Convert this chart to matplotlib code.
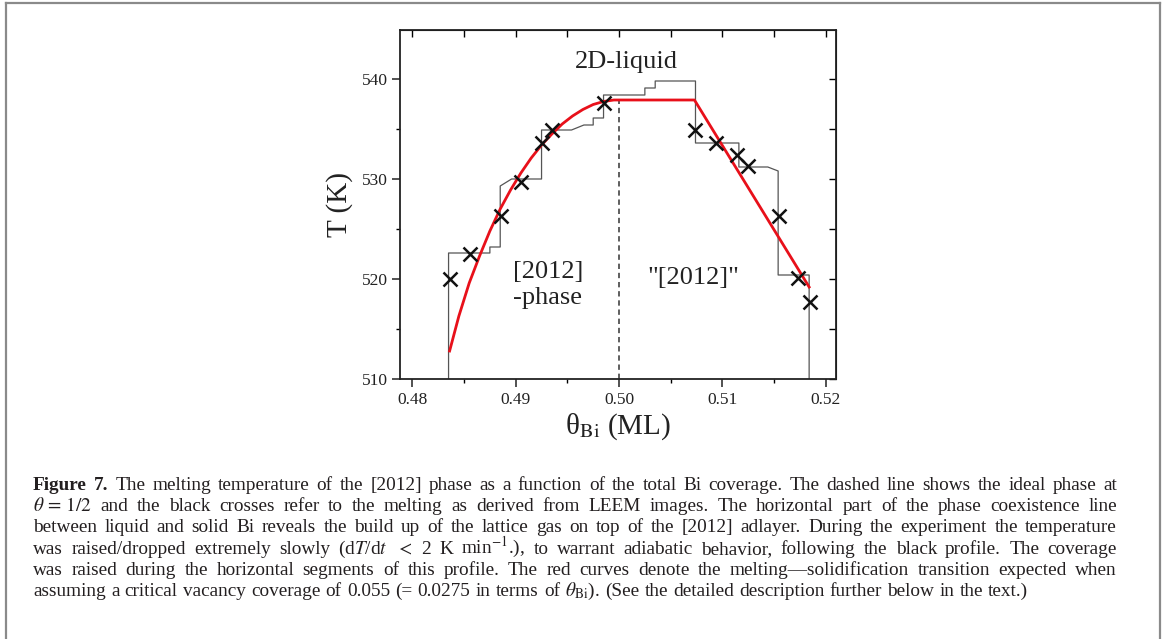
import re
import matplotlib
matplotlib.use("Agg")
import matplotlib.pyplot as plt
from matplotlib.lines import Line2D
from matplotlib.ticker import MultipleLocator

plt.rcParams["font.family"] = ["Liberation Serif", "DejaVu Serif"]
plt.rcParams["mathtext.fontset"] = "stix"

# LEEM melting points (black crosses)
cross_theta = [0.4836, 0.4856, 0.4886, 0.4905, 0.4925, 0.4935, 0.4985,
               0.5074, 0.5094, 0.5114, 0.5125, 0.5155, 0.5173, 0.5185]
cross_T = [520.0, 522.5, 526.3, 529.7, 533.6, 534.9, 537.6,
           534.9, 533.6, 532.4, 531.3, 526.3, 520.1, 517.7]

# temperature / coverage profile followed in the experiment
profile_theta = [0.4835, 0.4835, 0.4875, 0.4875, 0.4885, 0.4885, 0.4896, 0.4925,
                 0.4925, 0.4954, 0.4966, 0.4975, 0.4975, 0.4985, 0.4985, 0.5025,
                 0.5025, 0.5035, 0.5035, 0.5074, 0.5074, 0.5116, 0.5116, 0.5144,
                 0.5154, 0.5154, 0.5184, 0.5184]
profile_T = [510.0, 522.6, 522.6, 523.2, 523.2, 529.3, 530.0, 530.0,
             534.9, 534.9, 535.4, 535.4, 536.1, 536.1, 538.4, 538.4,
             539.1, 539.1, 539.8, 539.8, 533.6, 533.6, 531.2, 531.2,
             530.8, 520.4, 520.4, 510.0]

# expected melting / solidification line (red)
melt_theta = [0.4836, 0.4845, 0.4855, 0.4865, 0.4875, 0.4885, 0.4895, 0.4905,
              0.4915, 0.4925, 0.4935, 0.4945, 0.4955, 0.4965, 0.4975, 0.4985,
              0.4995, 0.5073, 0.5184]
melt_T = [512.8, 516.3, 519.6, 522.3, 524.8, 527.0, 528.9, 530.6,
          532.1, 533.4, 534.5, 535.5, 536.3, 536.95, 537.45, 537.75,
          537.9, 537.9, 519.2]

ideal_theta = 0.5
ideal_top = 537.9

caption = [
    "Figure 7. The melting temperature of the [2012] phase as a function of the total Bi coverage. The dashed line shows the ideal phase at",
    r"$\theta\,=\,1/2$ and the black crosses refer to the melting as derived from LEEM images. The horizontal part of the phase coexistence line",
    "between liquid and solid Bi reveals the build up of the lattice gas on top of the [2012] adlayer. During the experiment the temperature",
    r"was raised/dropped extremely slowly (d$T$/d$t$ $<$ 2 K min$^{-1}$.), to warrant adiabatic behavior, following the black profile. The coverage",
    "was raised during the horizontal segments of this profile. The red curves denote the melting\u2014solidification transition expected when",
    r"assuming a critical vacancy coverage of 0.055 (= 0.0275 in terms of $\theta_{\rm Bi}$). (See the detailed description further below in the text.)",
]

W, H = 1165, 639
fig = plt.figure(figsize=(W / 100, H / 100), dpi=100)
ax = fig.add_axes([400 / W, 1 - 379 / H, 436 / W, 349 / H])

ax.plot(profile_theta, profile_T, color="#555555", lw=0.9, zorder=2)
ax.plot([ideal_theta, ideal_theta], [510, ideal_top], color="#333333",
        lw=1.1, ls=(0, (3.5, 2.5)), zorder=2)
ax.plot(melt_theta, melt_T, color="#e8101a", lw=2.0, zorder=3)
ax.plot(cross_theta, cross_T, ls="none", marker="x", ms=9.5, mew=1.8,
        color="#111111", zorder=4)

ax.set_xlim(0.4788, 0.5210)
ax.set_ylim(510, 544.9)
ax.xaxis.set_major_locator(MultipleLocator(0.01))
ax.xaxis.set_minor_locator(MultipleLocator(0.005))
ax.yaxis.set_major_locator(MultipleLocator(10))
ax.yaxis.set_minor_locator(MultipleLocator(5))
ax.xaxis.set_major_formatter(lambda v, p: f"{v:.2f}")
ax.yaxis.set_major_formatter(lambda v, p: f"{v:.0f}")
ax.tick_params(which="major", direction="out", length=6, width=1.1,
               labelsize=12.5, colors="#222222")
ax.tick_params(which="minor", direction="out", length=3, width=1.0)
ax.tick_params(axis="x", pad=3)
ax.tick_params(axis="y", pad=3)
for s in ax.spines.values():
    s.set_linewidth(1.3)
    s.set_color("#222222")

top = ax.secondary_xaxis("top")
top.xaxis.set_major_locator(MultipleLocator(0.01))
top.xaxis.set_minor_locator(MultipleLocator(0.005))
top.tick_params(which="both", direction="in", length=5, width=1.0,
                labeltop=False, labelbottom=False)
right = ax.secondary_yaxis("right")
right.yaxis.set_major_locator(MultipleLocator(5))
right.tick_params(which="both", direction="in", length=5, width=1.0,
                  labelright=False, labelleft=False)

ax.set_xlabel("\u03b8$_{\\rm Bi}$ (ML)", fontsize=21, labelpad=3, color="#222222")
ax.set_ylabel("T (K)", fontsize=21, labelpad=6, color="#222222")

ax.text(0.50068, 541.7, "2D-liquid", fontsize=19, ha="center", va="center",
        color="#222222")
ax.text(0.48976, 519.4, "[2012]\n-phase", fontsize=19, ha="left", va="center",
        linespacing=1.2, color="#222222")
ax.text(0.50718, 520.1, '"[2012]"', fontsize=19, ha="center", va="center",
        color="#222222")

# frame around figure + caption
frame = dict(color="#8a8a8a", lw=1.6, transform=fig.transFigure)
fig.add_artist(Line2D([6 / W, 1160 / W], [1 - 3 / H, 1 - 3 / H], **frame))
fig.add_artist(Line2D([6 / W, 6 / W], [0, 1 - 3 / H], **frame))
fig.add_artist(Line2D([1160 / W, 1160 / W], [0, 1 - 3 / H], **frame))

# justified caption, placed word by word
renderer = fig.canvas.get_renderer()
x_left, x_right = 33, 1117
for i, line in enumerate(caption):
    words = re.findall(r"(?:\$[^$]*\$|\S)+", line)
    y = 1 - (490 + 21.2 * i) / H
    texts = []
    for j, w in enumerate(words):
        bold = i == 0 and j < 2
        t = fig.text(0, y, w, fontsize=13.9, va="baseline", color="#231f20",
                     weight="bold" if bold else "normal")
        texts.append(t)
    widths = [t.get_window_extent(renderer).width for t in texts]
    if i < len(caption) - 1:
        gap = (x_right - x_left - sum(widths)) / (len(words) - 1)
    else:
        gap = 5.2
    x = x_left
    for t, w in zip(texts, widths):
        t.set_x(x / W)
        x += w + gap

fig.savefig("out.png", dpi=100)
